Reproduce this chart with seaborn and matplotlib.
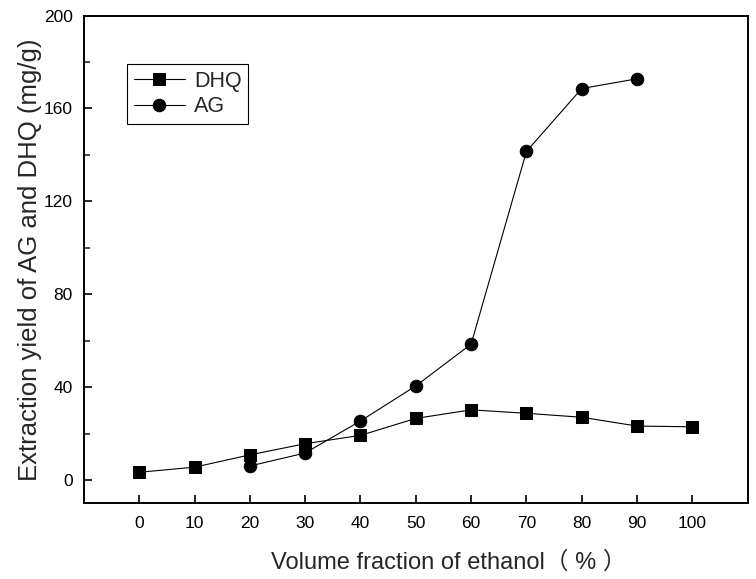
import numpy as np
import pandas as pd
import matplotlib
matplotlib.use("Agg")
import matplotlib.pyplot as plt
import seaborn as sns

# values
ethanol = [0, 10, 20, 30, 40, 50, 60, 70, 80, 90, 100]
dhq = [3.3, 5.5, 10.8, 15.6, 19.2, 26.5, 30.2, 28.7, 27.0, 23.2, 22.9]
ag_ethanol = [20, 30, 40, 50, 60, 70, 80, 90]
ag = [6.0, 11.6, 25.4, 40.5, 58.5, 141.5, 168.6, 172.8]

sns.set_style("ticks")
plt.rcParams['font.family'] = ['Liberation Sans', 'Noto Sans CJK SC', 'DejaVu Sans']

df_dhq = pd.DataFrame({'x': ethanol, 'y': dhq})
df_ag = pd.DataFrame({'x': ag_ethanol, 'y': ag})

fig = plt.figure(figsize=(7.56, 5.79), dpi=100)
ax = fig.add_axes([0.111, 0.131, 0.878, 0.842])

sns.lineplot(data=df_dhq, x='x', y='y', ax=ax, color='black', linewidth=0.8,
             marker='s', markersize=8.5, markeredgecolor='black', label='DHQ')
sns.lineplot(data=df_ag, x='x', y='y', ax=ax, color='black', linewidth=0.8,
             marker='o', markersize=9, markeredgecolor='black', label='AG')

ax.set_xlim(-10, 110)
ax.set_ylim(-10, 200)
ax.set_xticks(ethanol)
ax.set_yticks([0, 40, 80, 120, 160, 200])
ax.set_yticks([20, 60, 100, 140, 180], minor=True)
ax.tick_params(axis='both', which='major', direction='in', length=6, width=1.2,
               labelsize=12.5, colors='black')
ax.tick_params(axis='x', which='major', pad=9)
ax.tick_params(axis='y', which='major', pad=8)
ax.tick_params(axis='y', which='minor', direction='in', length=4, width=1.2)
for s in ax.spines.values():
    s.set_linewidth(1.4)
    s.set_color('black')

ax.set_xlabel('Volume fraction of ethanol（ % ）', fontsize=17, labelpad=15)
ax.xaxis.label.set_x(0.549)
ax.set_ylabel('Extraction yield of AG and DHQ (mg/g)', fontsize=18.5, labelpad=1.5)
ax.yaxis.label.set_y(0.50)

leg = ax.legend(loc='upper left', bbox_to_anchor=(0.065, 0.90), borderaxespad=0,
                fontsize=15.5, fancybox=False, edgecolor='black', framealpha=1,
                handlelength=2.4, handletextpad=0.4, borderpad=0.3, labelspacing=0.2)
leg.get_frame().set_linewidth(0.8)

fig.savefig('out.png', dpi=100, facecolor='white')
